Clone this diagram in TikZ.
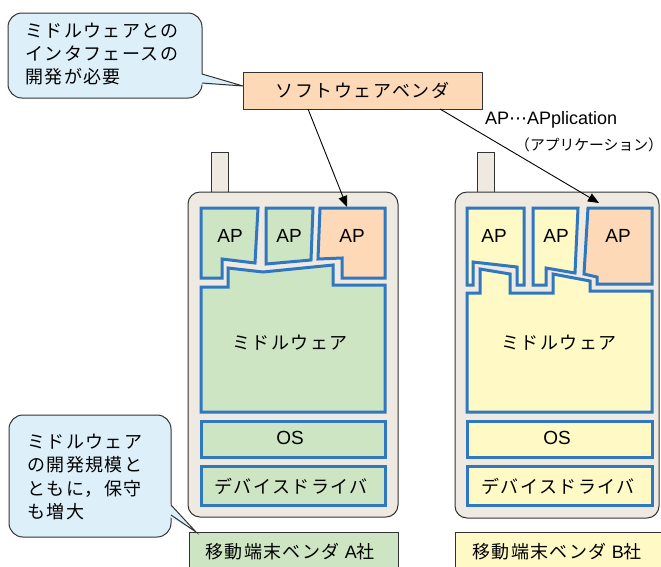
\documentclass[tikz,border=0pt]{standalone}
\usepackage{fontspec}
\setmainfont{Liberation Sans}
\newfontfamily\jp[LetterSpace=8]{Noto Sans CJK JP}
\newfontfamily\jpn{Noto Sans CJK JP}
\newfontfamily\dv{DejaVu Sans}
\usetikzlibrary{arrows.meta}
\definecolor{calloutfill}{HTML}{DDF0FA}
\definecolor{peach}{HTML}{FDD9B8}
\definecolor{mgreen}{HTML}{CEE5C4}
\definecolor{myellow}{HTML}{FEF9C5}
\definecolor{bodyc}{HTML}{EEEAE1}
\definecolor{bline}{HTML}{2F77BF}
\definecolor{dline}{HTML}{333333}
\begin{document}
\begin{tikzpicture}[x=1pt,y=-1pt,
  dk/.style={draw=dline, line width=1pt},
  blk/.style={draw=bline, line width=3pt, line join=miter},
  jt/.style={font={\fontsize{18}{23.3}\selectfont\jp}, inner sep=0pt},
  lt/.style={font={\fontsize{19}{22}\selectfont}, inner sep=0pt},
  arr/.style={draw=black, line width=0.9pt, -{Triangle[length=11pt,width=9pt]}},
  callout/.style={dk, fill=calloutfill, rounded corners=14pt}]
\clip (0,0) rectangle (661,566);
\fill[white] (0,0) rectangle (661,566);

% callout 1
\draw[callout] (8,13) rectangle (202,98);
\fill[calloutfill] (199,73.5) -- (243,86) -- (199,84.5) -- cycle;
\draw[dk] (202,74) -- (243,86) -- (202,83);
\node[jt, anchor=west, align=left] (c1) at (25,54) {ミドルウェアとの\\インタフェースの\\開発が必要};

% vendor
\node[dk, fill=peach, minimum width=239pt, minimum height=37pt, inner sep=0pt,
      font={\fontsize{18}{20}\selectfont\jp}] (vendor) at (362.5,90.5) {ソフトウェアベンダ};

% legend
\node[anchor=west, inner sep=0pt, font={\fontsize{18}{20}\selectfont}] (legend1) at (485,120) {AP{\dv ⋯}APplication};
\node[anchor=west, inner sep=0pt, font={\fontsize{14.8}{17}\selectfont\jpn}] (legend2) at (515,145) {（アプリケーション）};

% phone A
\draw[dk, fill=bodyc] (211,152) rectangle (228,194);
\draw[dk, fill=bodyc, rounded corners=12pt] (188,192) rectangle (398,517);
\draw[blk, fill=mgreen] (201,208) -- (258,208) -- (255,263) -- (222,259) -- (222,278) -- (201,278) -- cycle;
\draw[blk, fill=mgreen] (266,208) -- (313,208) -- (311,260) -- (266,264) -- cycle;
\draw[blk, fill=peach] (320,208) -- (385,208) -- (385,278) -- (342,278) -- (342,258) -- (318,259) -- cycle;
\draw[blk, fill=mgreen] (201,287) -- (228,287) -- (228,268) -- (263,272) -- (333,265) -- (333,285) -- (385,285) -- (385,412) -- (201,412) -- cycle;
\draw[blk, fill=mgreen] (201,421) rectangle (385,457);
\draw[blk, fill=mgreen] (201,466) rectangle (385,505);
\node[lt] (apA1) at (230,236) {AP};
\node[lt] (apA2) at (289,236) {AP};
\node[lt] (apA3) at (352,236) {AP};
\node[jt] (mwA) at (290,343) {ミドルウェア};
\node[lt] (osA) at (290,438) {OS};
\node[jt] (ddA) at (291,486) {デバイスドライバ};

% phone B
\draw[dk, fill=bodyc] (477,152) rectangle (494,194);
\draw[dk, fill=bodyc, rounded corners=12pt] (455,192) rectangle (659,518);
\draw[blk, fill=myellow] (467,208) -- (524,208) -- (524,285) -- (517,285) -- (517,267) -- (473,262) -- (473,285) -- (467,285) -- cycle;
\draw[blk, fill=myellow] (533,208) -- (578,208) -- (575,273) -- (546,268) -- (546,285) -- (533,285) -- cycle;
\draw[blk, fill=peach] (588,208) -- (652,208) -- (652,284) -- (597,284) -- (597,277) -- (584,274) -- cycle;
\draw[blk, fill=myellow] (467,293) -- (480,293) -- (480,269) -- (510,274) -- (510,293) -- (553,293) -- (553,274) -- (590,281) -- (590,291) -- (652,291) -- (652,412) -- (467,412) -- cycle;
\draw[blk, fill=myellow] (467,421) rectangle (652,457);
\draw[blk, fill=myellow] (467,466) rectangle (652,505);
\node[lt] (apB1) at (494,236) {AP};
\node[lt] (apB2) at (556,236) {AP};
\node[lt] (apB3) at (618,236) {AP};
\node[jt] (mwB) at (559,343) {ミドルウェア};
\node[lt] (osB) at (557,438) {OS};
\node[jt] (ddB) at (558,486) {デバイスドライバ};

% arrows
\coordinate (sA) at (308,109);
\coordinate (tA) at (347,207);
\coordinate (sB) at (440,109);
\coordinate (tB) at (599,203);
\draw[arr] (sA) -- (tA);
\draw[arr] (sB) -- (tB);

% labels
\node[dk, fill=mgreen, minimum width=209pt, minimum height=44pt, anchor=north west, inner sep=0pt] (labA) at (189,532) {};
\node[inner sep=0pt, font={\fontsize{18}{20}\selectfont}] (labAt) at (290,552) {{\jp 移動端末ベンダ} A{\jp 社}};
\node[dk, fill=myellow, minimum width=215pt, minimum height=44pt, anchor=north west, inner sep=0pt] (labB) at (455,532) {};
\node[inner sep=0pt, font={\fontsize{18}{20}\selectfont}] (labBt) at (557,552) {{\jp 移動端末ベンダ} B{\jp 社}};

% callout 2
\draw[callout] (9,415) rectangle (171,537);
\fill[calloutfill] (168,502) -- (196,532) -- (168,516) -- cycle;
\draw[dk] (171,505) -- (196,532) -- (171,515);
\node[jt, anchor=west, align=left] (c2) at (27,477) {ミドルウェア\\の開発規模と\\ともに，保守\\も増大};
\end{tikzpicture}
\end{document}
